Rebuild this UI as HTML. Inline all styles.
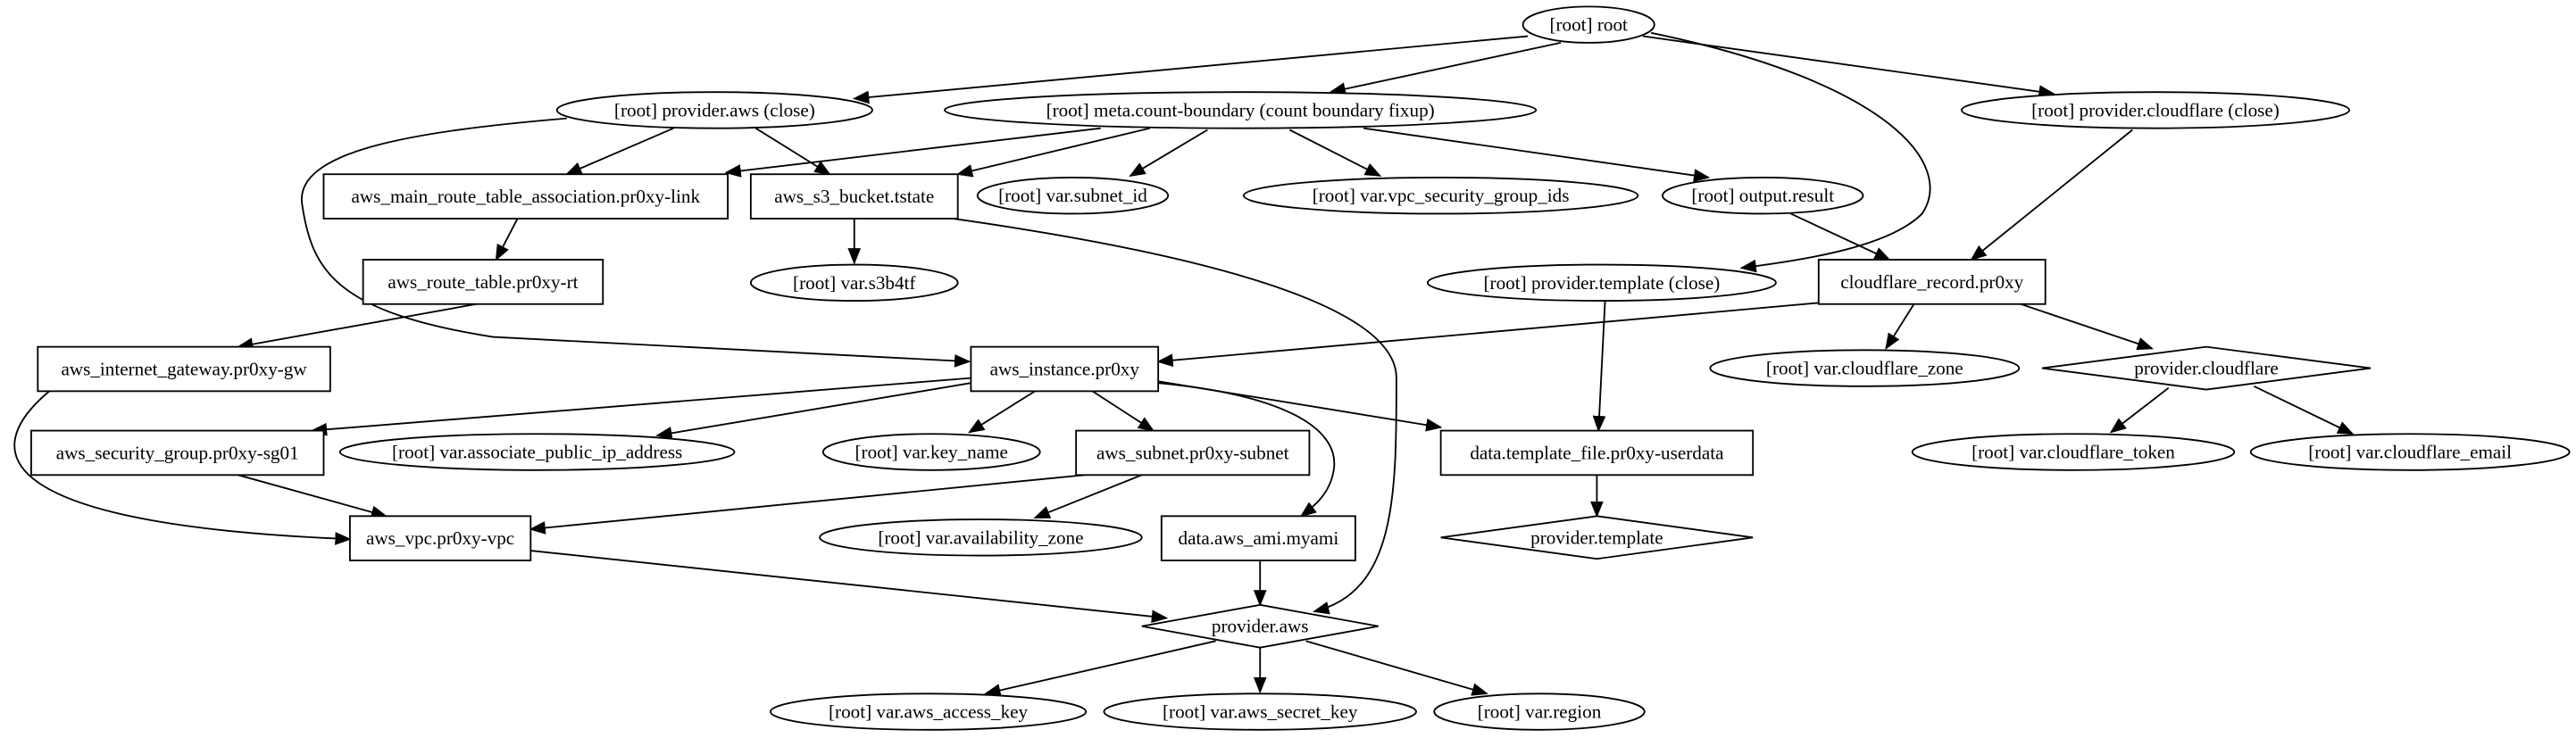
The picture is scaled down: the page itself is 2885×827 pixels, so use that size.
<!DOCTYPE html>
<html><head><meta charset="utf-8"><style>
html,body{margin:0;padding:0;background:#fff;}
svg{display:block;}
text{font-family:"Liberation Serif",serif;font-size:11.5px;fill:#000;text-anchor:middle;dominant-baseline:central;}
.n{fill:#fff;stroke:#000;stroke-width:1;}
.e{fill:none;stroke:#000;stroke-width:1;marker-end:url(#a);}
</style></head><body>
<svg width="2885" height="827" viewBox="0 0 1568 449" preserveAspectRatio="none" xmlns="http://www.w3.org/2000/svg">
<defs><marker id="a" markerUnits="userSpaceOnUse" markerWidth="10" markerHeight="8" refX="9" refY="4" orient="auto"><path d="M0,0 L10,4 L0,8 Z" fill="#000"/></marker></defs>
<rect width="1568" height="449" fill="#fff"/>
<!-- edges -->
<path class="e" d="M930,22 L520,60"/>
<path class="e" d="M950,26 L810,56"/>
<path class="e" d="M1000,22 L1250,57"/>
<path class="e" d="M1005,20 C1150,50 1190,100 1170,130 C1150,150 1100,158 1060,163"/>
<path class="e" d="M410,78 L345,106"/>
<path class="e" d="M460,78 L505,106"/>
<path class="e" d="M345,72 C250,80 178,92 184,125 C190,165 205,190 300,205 L590,220"/>
<path class="e" d="M670,78 L442,105"/>
<path class="e" d="M700,78 L583,106"/>
<path class="e" d="M735,79 L688,107"/>
<path class="e" d="M785,79 L840,107"/>
<path class="e" d="M830,78 L1040,108"/>
<path class="e" d="M1298,79 L1200,158"/>
<path class="e" d="M315,133 L302,158"/>
<path class="e" d="M520,133 L520,160"/>
<path class="e" d="M580,133 C700,150 850,180 850,230 C850,300 850,360 800,372"/>
<path class="e" d="M1090,130 L1150,158"/>
<path class="e" d="M977,183 L973,262"/>
<path class="e" d="M290,185 L145,211"/>
<path class="e" d="M1110,184 L705,220"/>
<path class="e" d="M1165,185 L1148,212"/>
<path class="e" d="M1230,185 L1310,212"/>
<path class="e" d="M30,238 C-20,280 10,320 213,328"/>
<path class="e" d="M591,230 L190,262"/>
<path class="e" d="M591,233 L400,265"/>
<path class="e" d="M630,238 L590,263"/>
<path class="e" d="M665,238 L702,262"/>
<path class="e" d="M705,233 C780,240 815,260 812,285 C810,300 800,308 792,314"/>
<path class="e" d="M705,232 L877,260"/>
<path class="e" d="M1320,236 L1285,263"/>
<path class="e" d="M1372,235 L1432,264"/>
<path class="e" d="M145,289 L235,314"/>
<path class="e" d="M660,289 L323,322"/>
<path class="e" d="M695,289 L630,315"/>
<path class="e" d="M972,289 L972,314"/>
<path class="e" d="M323,335 L710,376"/>
<path class="e" d="M767,341 L767,368"/>
<path class="e" d="M740,390 L600,422"/>
<path class="e" d="M767,394 L767,421"/>
<path class="e" d="M795,390 L905,422"/>
<!-- nodes -->
<ellipse class="n" cx="967" cy="15" rx="40" ry="11"/><text x="967" y="15">[root] root</text>
<ellipse class="n" cx="435" cy="67" rx="96" ry="11"/><text x="435" y="67">[root] provider.aws (close)</text>
<ellipse class="n" cx="755" cy="67" rx="180" ry="11"/><text x="755" y="67">[root] meta.count-boundary (count boundary fixup)</text>
<ellipse class="n" cx="1312" cy="67" rx="118" ry="11"/><text x="1312" y="67">[root] provider.cloudflare (close)</text>
<rect class="n" x="197" y="106" width="246" height="27"/><text x="320" y="119.5">aws_main_route_table_association.pr0xy-link</text>
<rect class="n" x="457" y="106" width="126" height="27"/><text x="520" y="119.5">aws_s3_bucket.tstate</text>
<ellipse class="n" cx="653" cy="119" rx="58" ry="11"/><text x="653" y="119">[root] var.subnet_id</text>
<ellipse class="n" cx="877" cy="119" rx="120" ry="11"/><text x="877" y="119">[root] var.vpc_security_group_ids</text>
<ellipse class="n" cx="1073" cy="119" rx="61" ry="11"/><text x="1073" y="119">[root] output.result</text>
<rect class="n" x="221" y="158" width="146" height="27"/><text x="294" y="171.5">aws_route_table.pr0xy-rt</text>
<ellipse class="n" cx="520" cy="172" rx="63" ry="11"/><text x="520" y="172">[root] var.s3b4tf</text>
<ellipse class="n" cx="975" cy="172" rx="106" ry="11"/><text x="975" y="172">[root] provider.template (close)</text>
<rect class="n" x="1107" y="158" width="138" height="27"/><text x="1176" y="171.5">cloudflare_record.pr0xy</text>
<rect class="n" x="23" y="211" width="178" height="27"/><text x="112" y="224.5">aws_internet_gateway.pr0xy-gw</text>
<rect class="n" x="591" y="211" width="114" height="27"/><text x="648" y="224.5">aws_instance.pr0xy</text>
<ellipse class="n" cx="1135" cy="224" rx="94" ry="11"/><text x="1135" y="224">[root] var.cloudflare_zone</text>
<polygon class="n" points="1343,211 1443,224 1343,237 1243,224"/><text x="1343" y="224">provider.cloudflare</text>
<rect class="n" x="19" y="262" width="178" height="27"/><text x="108" y="275.5">aws_security_group.pr0xy-sg01</text>
<ellipse class="n" cx="327" cy="275" rx="120" ry="11"/><text x="327" y="275">[root] var.associate_public_ip_address</text>
<ellipse class="n" cx="567" cy="275" rx="66" ry="11"/><text x="567" y="275">[root] var.key_name</text>
<rect class="n" x="655" y="262" width="142" height="27"/><text x="726" y="275.5">aws_subnet.pr0xy-subnet</text>
<rect class="n" x="877" y="262" width="190" height="27"/><text x="972" y="275.5">data.template_file.pr0xy-userdata</text>
<ellipse class="n" cx="1262" cy="275" rx="98" ry="11"/><text x="1262" y="275">[root] var.cloudflare_token</text>
<ellipse class="n" cx="1467" cy="275" rx="97" ry="11"/><text x="1467" y="275">[root] var.cloudflare_email</text>
<rect class="n" x="213" y="314" width="110" height="27"/><text x="268" y="327.5">aws_vpc.pr0xy-vpc</text>
<ellipse class="n" cx="597" cy="327" rx="98" ry="11"/><text x="597" y="327">[root] var.availability_zone</text>
<rect class="n" x="707" y="314" width="118" height="27"/><text x="766" y="327.5">data.aws_ami.myami</text>
<polygon class="n" points="972,314 1067,327 972,340 877,327"/><text x="972" y="327">provider.template</text>
<polygon class="n" points="767,368 839,381 767,394 695,381"/><text x="767" y="381">provider.aws</text>
<ellipse class="n" cx="565" cy="433" rx="96" ry="11"/><text x="565" y="433">[root] var.aws_access_key</text>
<ellipse class="n" cx="767" cy="433" rx="95" ry="11"/><text x="767" y="433">[root] var.aws_secret_key</text>
<ellipse class="n" cx="937" cy="433" rx="64" ry="11"/><text x="937" y="433">[root] var.region</text>
</svg>
</body></html>
